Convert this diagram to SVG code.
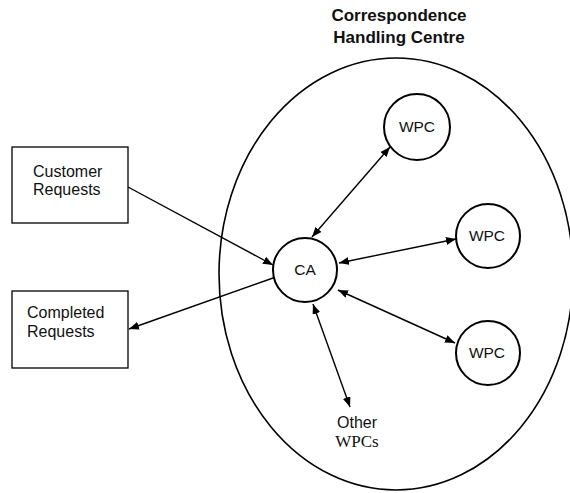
<svg xmlns="http://www.w3.org/2000/svg" width="570" height="493" viewBox="0 0 570 493">
<defs>
<marker id="ah" viewBox="0 0 10 8" refX="10" refY="4" markerWidth="10" markerHeight="8" markerUnits="userSpaceOnUse" orient="auto-start-reverse">
<path d="M0,0 L10,4 L0,8 Z" fill="#000"/>
</marker>
<style>
.t{font-family:"Liberation Sans",Arial,sans-serif;font-size:16px;fill:#111}
.n{font-family:"Liberation Sans",Arial,sans-serif;font-size:15.5px;fill:#111}
.b{font-family:"Liberation Sans",Arial,sans-serif;font-size:17px;font-weight:bold;fill:#111}
.s{font-family:"Liberation Serif","Times New Roman",serif;font-size:17px;fill:#111}
.c{fill:#fff;stroke:#000;stroke-width:2}
.r{fill:#fff;stroke:#000;stroke-width:1.3}
.l{stroke:#000;stroke-width:1.4;fill:none}
</style>
</defs>
<rect width="570" height="493" fill="#fff"/>
<g id="centre">
<ellipse cx="396" cy="274" rx="177" ry="216" fill="none" stroke="#000" stroke-width="1.6"/>
<text class="b" x="399" y="21" text-anchor="middle">Correspondence</text>
<text class="b" x="399" y="43" text-anchor="middle">Handling Centre</text>
</g>
<g id="connectors">
<line class="l" x1="128" y1="187" x2="273" y2="265" marker-end="url(#ah)"/>
<line class="l" x1="273" y1="278" x2="129" y2="329" marker-end="url(#ah)"/>
<line class="l" x1="312" y1="237" x2="390" y2="147" marker-start="url(#ah)" marker-end="url(#ah)"/>
<line class="l" x1="339" y1="263" x2="456" y2="239" marker-start="url(#ah)" marker-end="url(#ah)"/>
<line class="l" x1="338" y1="290" x2="455" y2="343" marker-start="url(#ah)" marker-end="url(#ah)"/>
<line class="l" x1="313" y1="304" x2="350" y2="407" marker-start="url(#ah)" marker-end="url(#ah)"/>
</g>
<g id="customer">
<rect class="r" x="12" y="147" width="116" height="76"/>
<text class="t" x="33" y="177">Customer</text>
<text class="t" x="33" y="195">Requests</text>
</g>
<g id="completed">
<rect class="r" x="12" y="291" width="116" height="77"/>
<text class="t" x="27" y="318">Completed</text>
<text class="t" x="27" y="337">Requests</text>
</g>
<g id="ca">
<circle class="c" cx="305" cy="270" r="32"/>
<text class="n" x="305" y="275" text-anchor="middle">CA</text>
</g>
<g id="wpc1">
<circle class="c" cx="417" cy="127" r="33"/>
<text class="n" x="417" y="132" text-anchor="middle">WPC</text>
</g>
<g id="wpc2">
<circle class="c" cx="488" cy="236" r="32"/>
<text class="n" x="487" y="241" text-anchor="middle">WPC</text>
</g>
<g id="wpc3">
<circle class="c" cx="488" cy="353" r="32"/>
<text class="n" x="487" y="358" text-anchor="middle">WPC</text>
</g>
<g id="other">
<text class="t" x="357" y="428" text-anchor="middle">Other</text>
<text class="s" x="357" y="447" text-anchor="middle">WPCs</text>
</g>
</svg>
